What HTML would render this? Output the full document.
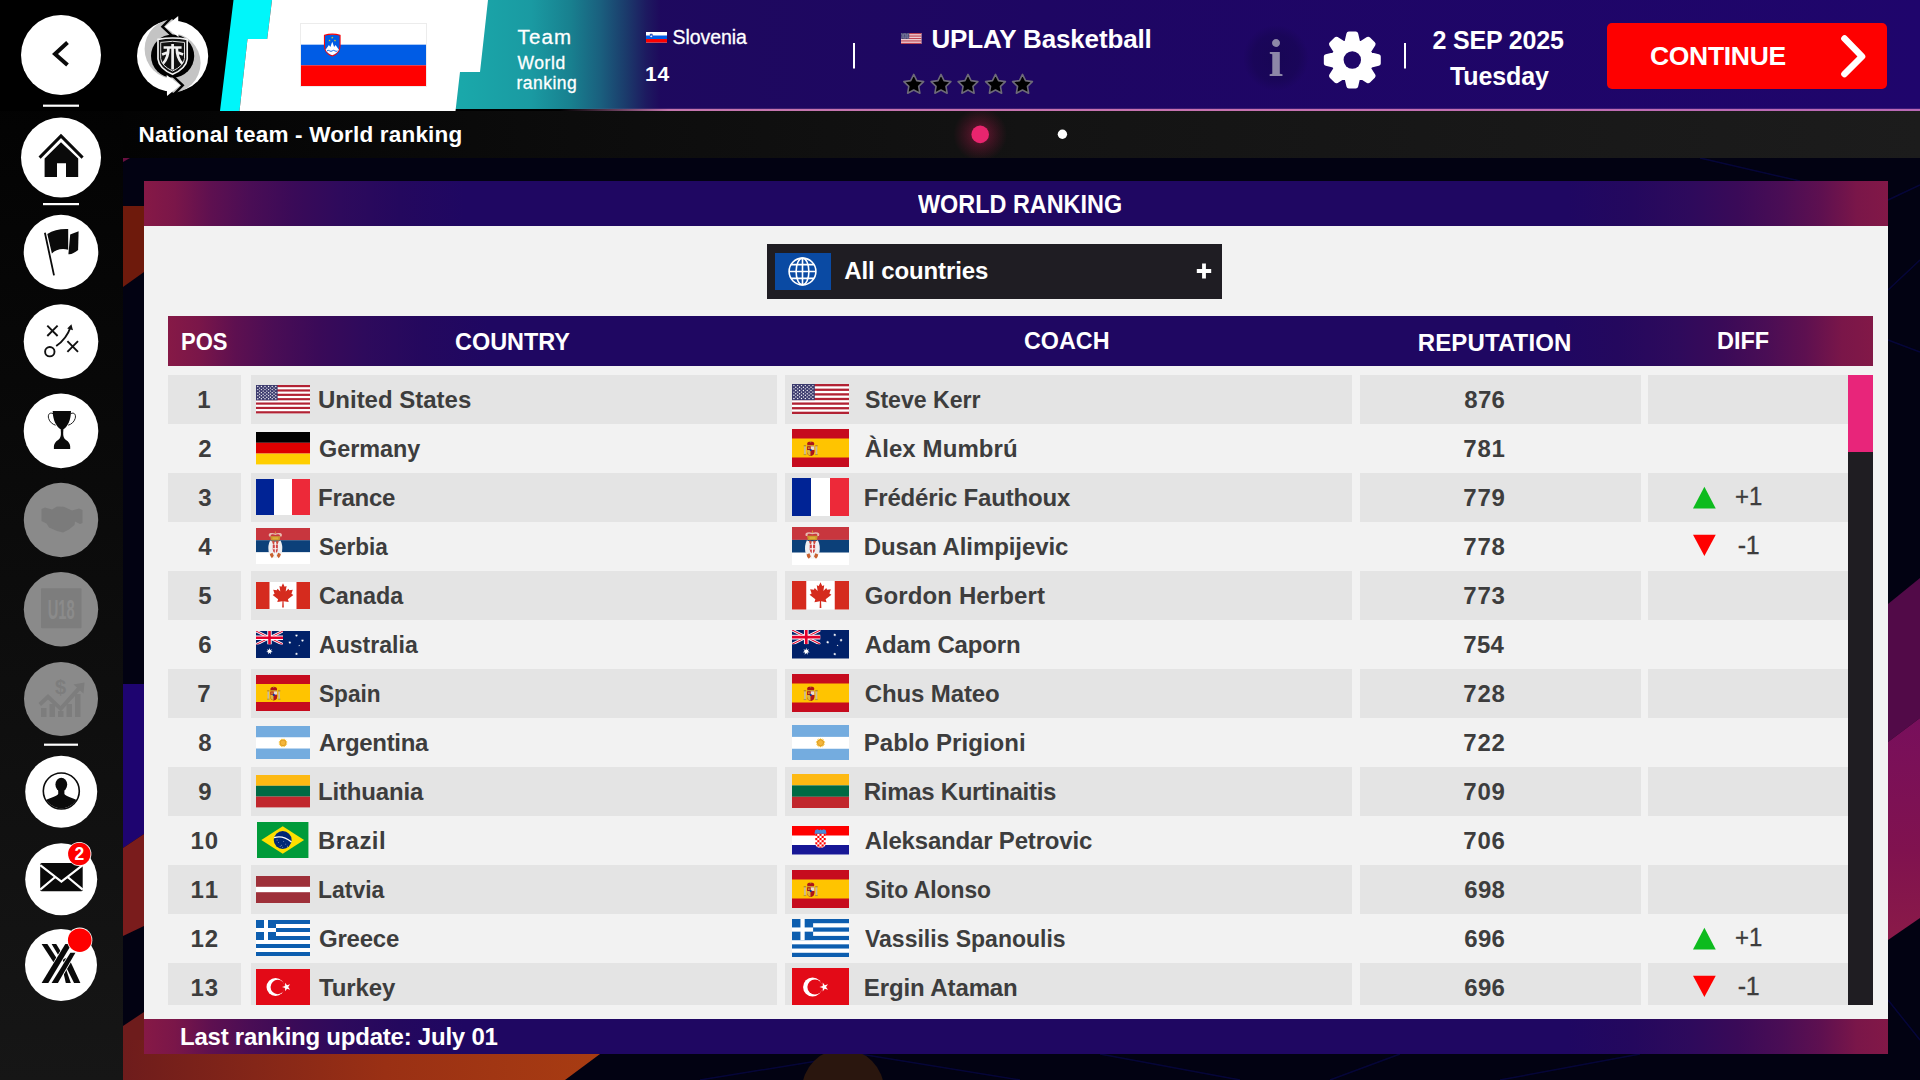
<!DOCTYPE html>
<html lang="en"><head><meta charset="utf-8"><title>National team - World ranking</title>
<style>
html,body{margin:0;padding:0;}
body{width:1920px;height:1080px;overflow:hidden;background:#020212;font-family:"Liberation Sans",sans-serif;position:relative;}
.abs{position:absolute;}
.t{position:absolute;white-space:nowrap;line-height:1;font-weight:700;color:#fff;}
.fl{position:absolute;display:block;}
.cell{position:absolute;height:49px;background:#e4e4e4;}
.circ{position:absolute;border-radius:50%;background:#fff;}
.circ.dis{background:#8e8e8e;}
.sdiv{position:absolute;left:43px;width:36px;height:2px;background:#fff;}
#bg{position:absolute;left:0;top:0;}
#side{position:absolute;left:0;top:0;width:123px;height:1080px;background:linear-gradient(180deg,#000 0%,#030303 12%,#161616 100%);}
#topbar{position:absolute;left:0;top:0;width:1920px;height:111px;}
#subbar{position:absolute;left:123px;top:111px;width:1797px;height:47px;background:linear-gradient(90deg,#030303 0%,#0c0c0c 25%,#131313 50%,#1c1c1c 100%);}
#panel{position:absolute;left:144px;top:181px;width:1744px;height:873px;background:#f2f2f2;}
.grad{background:linear-gradient(90deg,#861946 0px, #7a1649 31px, #5e1050 67px, #4a0d55 106px, #3a0a58 150px, #2e0a5c 196px, #24085e 256px, #1f0762 320px, #1f0762 calc(100% - 320px), #24085e calc(100% - 256px), #2e0a5c calc(100% - 196px), #3a0a58 calc(100% - 150px), #4a0d55 calc(100% - 106px), #5e1050 calc(100% - 67px), #7a1649 calc(100% - 31px), #821847 calc(100% - 0px));}
#phead{position:absolute;left:144px;top:181px;width:1744px;height:45px;}
#pfoot{position:absolute;left:144px;top:1019px;width:1744px;height:35px;}
#thead{position:absolute;left:168px;top:316px;width:1705px;height:49.5px;}
#dd{position:absolute;left:767px;top:244px;width:455px;height:54.5px;background:#1f1d23;}
#ddtile{position:absolute;left:775px;top:253px;width:56px;height:36.7px;background:#0a4aa3;}
#scroll{position:absolute;left:0;top:0;width:1920px;height:1005px;overflow:hidden;clip-path:inset(375px 0 0 0);}
#track{position:absolute;left:1848px;top:375px;width:25px;height:630px;background:#1f1d22;}
#thumb{position:absolute;left:1848px;top:375px;width:25px;height:77px;background:#e8257a;}
#bigflag{outline:1px solid #ececec;outline-offset:-0.5px;}
#cont{position:absolute;left:1607px;top:23px;width:280px;height:66px;border-radius:5px;background:#fe0000;}
</style></head><body>

<!-- background art -->
<svg id="bg" width="1920" height="1080" viewBox="0 0 1920 1080">
  <defs>
    <linearGradient id="gb" x1="0" x2="1" y1="0" y2="0"><stop offset="0" stop-color="#6e1c1c"/><stop offset="0.55" stop-color="#9a3014"/><stop offset="1" stop-color="#a83c12"/></linearGradient>
    <linearGradient id="gm" x1="0" x2="1" y1="0" y2="1"><stop offset="0" stop-color="#5a0a50"/><stop offset="0.5" stop-color="#7a1058"/><stop offset="1" stop-color="#8a1848"/></linearGradient>
    <linearGradient id="gm2" x1="0" x2="0" y1="0" y2="1"><stop offset="0" stop-color="#780f5c"/><stop offset="0.6" stop-color="#80124f"/><stop offset="1" stop-color="#8a1a48"/></linearGradient>
    <radialGradient id="go"><stop offset="0" stop-color="#7a3a10" stop-opacity="0.7"/><stop offset="1" stop-color="#7a3a10" stop-opacity="0"/></radialGradient>
  </defs>
  <rect x="123" y="158" width="1797" height="922" fill="#020212"/>
  <!-- faint blue lines -->
  <g stroke="#0a0a5a" stroke-width="1.5" opacity="0.55" fill="none">
    <path d="M1700,158 L1800,181 M1888,200 L1920,185 M1888,340 L1920,352 M1888,290 L1920,260"/>
    <path d="M700,1080 L860,1054 L1020,1080 M1100,1054 L1240,1080 M1400,1054 L1330,1080 M1500,1080 L1640,1054 M1888,1000 L1920,1040"/>
  </g>
  <!-- left strip shapes -->
  <polygon points="123,206 144,206 144,272 123,287" fill="#6e1a0c"/>
  <polygon points="123,684 144,684 144,834 123,848" fill="#1e0470"/>
  <polygon points="123,848 144,834 144,926 123,936" fill="#7a1c1c"/>
  <polygon points="123,1026 144,1012 144,1080 123,1080" fill="#6e1c1c"/>
  <polygon points="123,158 130,158 123,162" fill="#6a1040"/>
  <!-- bottom brown -->
  <polygon points="123,1040 600,1040 600,1054 565,1080 123,1080" fill="url(#gb)"/>
  <circle cx="843" cy="1090" r="41" fill="#2a160e"/>
  <!-- right magenta shapes -->
  <polygon points="1888,604 1920,578 1920,718 1888,742" fill="#520a48"/>
  <polygon points="1888,742 1920,718 1920,918 1888,940" fill="url(#gm2)"/>
</svg>

<div id="side"></div>

<!-- top bar -->
<svg id="topbar" width="1920" height="111" viewBox="0 0 1920 111">
  <defs>
    <linearGradient id="tb" x1="0" x2="1"><stop offset="0" stop-color="#1e0a5c"/><stop offset="0.4" stop-color="#1e0663"/><stop offset="1" stop-color="#1f056c"/></linearGradient>
    <linearGradient id="teal" gradientUnits="userSpaceOnUse" x1="462" x2="660" y1="0" y2="0"><stop offset="0" stop-color="#1aa8aa"/><stop offset="0.35" stop-color="#1a9aa2"/><stop offset="0.55" stop-color="#18808f"/><stop offset="0.7" stop-color="#1a5f7e"/><stop offset="0.83" stop-color="#1b3a6b"/><stop offset="0.93" stop-color="#1d1a60"/><stop offset="1" stop-color="#1e0a5c"/></linearGradient>
    <linearGradient id="pl" x1="0" x2="1"><stop offset="0" stop-color="#c476ae" stop-opacity="0"/><stop offset="0.08" stop-color="#c476ae"/><stop offset="0.5" stop-color="#c672b0"/><stop offset="1" stop-color="#b868b6"/></linearGradient>
  </defs>
  <rect x="0" y="0" width="1920" height="111" fill="#000"/>
  <rect x="455" y="0" width="1465" height="109" fill="url(#tb)"/>
  <polygon points="455,0 660,0 660,109 455,109" fill="url(#teal)"/>
  <!-- pink line -->
  <rect x="560" y="108.8" width="1360" height="2.3" fill="url(#pl)"/>
  <!-- black left -->
  <polygon points="0,0 233.5,0 220,111 0,111" fill="#000"/>
  <!-- cyan -->
  <polygon points="233.5,0 272,0 267.2,39 247.5,39 239.5,111 220,111" fill="#00f6fa"/>
  <!-- white -->
  <polygon points="272,0 488,0 480,72 460,72 455.5,111 239.5,111 247.5,39 267.2,39" fill="#fff"/>
  <!-- stars -->
  <polygon points="913.75,74.40 916.81,80.59 923.64,81.59 918.70,86.41 919.86,93.21 913.75,90.00 907.64,93.21 908.80,86.41 903.86,81.59 910.69,80.59" fill="#000" stroke="#6d6a78" stroke-width="1.6" stroke-linejoin="round"/><polygon points="941.00,74.40 944.06,80.59 950.89,81.59 945.95,86.41 947.11,93.21 941.00,90.00 934.89,93.21 936.05,86.41 931.11,81.59 937.94,80.59" fill="#000" stroke="#6d6a78" stroke-width="1.6" stroke-linejoin="round"/><polygon points="968.00,74.40 971.06,80.59 977.89,81.59 972.95,86.41 974.11,93.21 968.00,90.00 961.89,93.21 963.05,86.41 958.11,81.59 964.94,80.59" fill="#000" stroke="#6d6a78" stroke-width="1.6" stroke-linejoin="round"/><polygon points="995.50,74.40 998.56,80.59 1005.39,81.59 1000.45,86.41 1001.61,93.21 995.50,90.00 989.39,93.21 990.55,86.41 985.61,81.59 992.44,80.59" fill="#000" stroke="#6d6a78" stroke-width="1.6" stroke-linejoin="round"/><polygon points="1022.50,74.40 1025.56,80.59 1032.39,81.59 1027.45,86.41 1028.61,93.21 1022.50,90.00 1016.39,93.21 1017.55,86.41 1012.61,81.59 1019.44,80.59" fill="#000" stroke="#6d6a78" stroke-width="1.6" stroke-linejoin="round"/>
  <!-- dividers -->
  <rect x="853" y="43" width="2" height="25.5" fill="#fff"/>
  <rect x="1404" y="43" width="2" height="25.5" fill="#fff"/>
</svg>
<svg class="fl" style="left:301px;top:24px" width="125" height="62" viewBox="0 0 120 60" preserveAspectRatio="none" id="bigflag"><rect width="120" height="60" fill="#fff"/><rect y="20" width="120" height="20" fill="#005ce5"/><rect y="40" width="120" height="20" fill="#ff0000"/><path d="M22.5,11 q7.5,-2.4 15,0 v10 q0,7 -7.5,10 q-7.5,-3 -7.5,-10z" fill="#005ce5" stroke="#ff0000" stroke-width="1"/><path d="M23.6,25 l3.2,-4.6 l1.4,1.8 l1.8,-5 l1.8,5 l1.4,-1.8 l3.2,4.6 q-1.6,3.6 -6.4,5.2 q-4.8,-1.6 -6.4,-5.2z" fill="#fff"/><path d="M25,26 q1.2,-1 2.5,0 t2.5,0 t2.5,0 t2.5,0" stroke="#005ce5" stroke-width="0.9" fill="none"/><polygon points="30.00,12.00 30.27,12.83 31.14,12.83 30.44,13.34 30.71,14.17 30.00,13.66 29.29,14.17 29.56,13.34 28.86,12.83 29.73,12.83" fill="#ffdd00"/><polygon points="27.40,14.80 27.67,15.63 28.54,15.63 27.84,16.14 28.11,16.97 27.40,16.46 26.69,16.97 26.96,16.14 26.26,15.63 27.13,15.63" fill="#ffdd00"/><polygon points="32.60,14.80 32.87,15.63 33.74,15.63 33.04,16.14 33.31,16.97 32.60,16.46 31.89,16.97 32.16,16.14 31.46,15.63 32.33,15.63" fill="#ffdd00"/></svg>
<svg class="fl" style="left:646px;top:32px" width="21" height="10.5" viewBox="0 0 120 60" preserveAspectRatio="none" ><rect width="120" height="60" fill="#fff"/><rect y="20" width="120" height="20" fill="#005ce5"/><rect y="40" width="120" height="20" fill="#ff0000"/><path d="M22.5,11 q7.5,-2.4 15,0 v10 q0,7 -7.5,10 q-7.5,-3 -7.5,-10z" fill="#005ce5" stroke="#ff0000" stroke-width="1"/><path d="M23.6,25 l3.2,-4.6 l1.4,1.8 l1.8,-5 l1.8,5 l1.4,-1.8 l3.2,4.6 q-1.6,3.6 -6.4,5.2 q-4.8,-1.6 -6.4,-5.2z" fill="#fff"/><path d="M25,26 q1.2,-1 2.5,0 t2.5,0 t2.5,0 t2.5,0" stroke="#005ce5" stroke-width="0.9" fill="none"/><polygon points="30.00,12.00 30.27,12.83 31.14,12.83 30.44,13.34 30.71,14.17 30.00,13.66 29.29,14.17 29.56,13.34 28.86,12.83 29.73,12.83" fill="#ffdd00"/><polygon points="27.40,14.80 27.67,15.63 28.54,15.63 27.84,16.14 28.11,16.97 27.40,16.46 26.69,16.97 26.96,16.14 26.26,15.63 27.13,15.63" fill="#ffdd00"/><polygon points="32.60,14.80 32.87,15.63 33.74,15.63 33.04,16.14 33.31,16.97 32.60,16.46 31.89,16.97 32.16,16.14 31.46,15.63 32.33,15.63" fill="#ffdd00"/></svg>
<svg class="fl" style="left:901px;top:33px" width="20.5" height="11" viewBox="0 0 57 30" preserveAspectRatio="none" ><rect width="57" height="30" fill="#fff"/><rect y="0.000" width="57" height="2.308" fill="#b22234"/><rect y="4.615" width="57" height="2.308" fill="#b22234"/><rect y="9.231" width="57" height="2.308" fill="#b22234"/><rect y="13.846" width="57" height="2.308" fill="#b22234"/><rect y="18.462" width="57" height="2.308" fill="#b22234"/><rect y="23.077" width="57" height="2.308" fill="#b22234"/><rect y="27.692" width="57" height="2.308" fill="#b22234"/><rect width="22.80" height="16.15" fill="#3c3b6e"/><circle cx="1.90" cy="1.62" r="0.7" fill="#fff"/><circle cx="5.70" cy="1.62" r="0.7" fill="#fff"/><circle cx="9.50" cy="1.62" r="0.7" fill="#fff"/><circle cx="13.30" cy="1.62" r="0.7" fill="#fff"/><circle cx="17.10" cy="1.62" r="0.7" fill="#fff"/><circle cx="20.90" cy="1.62" r="0.7" fill="#fff"/><circle cx="3.80" cy="3.23" r="0.7" fill="#fff"/><circle cx="7.60" cy="3.23" r="0.7" fill="#fff"/><circle cx="11.40" cy="3.23" r="0.7" fill="#fff"/><circle cx="15.20" cy="3.23" r="0.7" fill="#fff"/><circle cx="19.00" cy="3.23" r="0.7" fill="#fff"/><circle cx="1.90" cy="4.85" r="0.7" fill="#fff"/><circle cx="5.70" cy="4.85" r="0.7" fill="#fff"/><circle cx="9.50" cy="4.85" r="0.7" fill="#fff"/><circle cx="13.30" cy="4.85" r="0.7" fill="#fff"/><circle cx="17.10" cy="4.85" r="0.7" fill="#fff"/><circle cx="20.90" cy="4.85" r="0.7" fill="#fff"/><circle cx="3.80" cy="6.46" r="0.7" fill="#fff"/><circle cx="7.60" cy="6.46" r="0.7" fill="#fff"/><circle cx="11.40" cy="6.46" r="0.7" fill="#fff"/><circle cx="15.20" cy="6.46" r="0.7" fill="#fff"/><circle cx="19.00" cy="6.46" r="0.7" fill="#fff"/><circle cx="1.90" cy="8.08" r="0.7" fill="#fff"/><circle cx="5.70" cy="8.08" r="0.7" fill="#fff"/><circle cx="9.50" cy="8.08" r="0.7" fill="#fff"/><circle cx="13.30" cy="8.08" r="0.7" fill="#fff"/><circle cx="17.10" cy="8.08" r="0.7" fill="#fff"/><circle cx="20.90" cy="8.08" r="0.7" fill="#fff"/><circle cx="3.80" cy="9.69" r="0.7" fill="#fff"/><circle cx="7.60" cy="9.69" r="0.7" fill="#fff"/><circle cx="11.40" cy="9.69" r="0.7" fill="#fff"/><circle cx="15.20" cy="9.69" r="0.7" fill="#fff"/><circle cx="19.00" cy="9.69" r="0.7" fill="#fff"/><circle cx="1.90" cy="11.31" r="0.7" fill="#fff"/><circle cx="5.70" cy="11.31" r="0.7" fill="#fff"/><circle cx="9.50" cy="11.31" r="0.7" fill="#fff"/><circle cx="13.30" cy="11.31" r="0.7" fill="#fff"/><circle cx="17.10" cy="11.31" r="0.7" fill="#fff"/><circle cx="20.90" cy="11.31" r="0.7" fill="#fff"/><circle cx="3.80" cy="12.92" r="0.7" fill="#fff"/><circle cx="7.60" cy="12.92" r="0.7" fill="#fff"/><circle cx="11.40" cy="12.92" r="0.7" fill="#fff"/><circle cx="15.20" cy="12.92" r="0.7" fill="#fff"/><circle cx="19.00" cy="12.92" r="0.7" fill="#fff"/><circle cx="1.90" cy="14.54" r="0.7" fill="#fff"/><circle cx="5.70" cy="14.54" r="0.7" fill="#fff"/><circle cx="9.50" cy="14.54" r="0.7" fill="#fff"/><circle cx="13.30" cy="14.54" r="0.7" fill="#fff"/><circle cx="17.10" cy="14.54" r="0.7" fill="#fff"/><circle cx="20.90" cy="14.54" r="0.7" fill="#fff"/></svg>
<svg class="fl" style="left:0;top:0" width="1920" height="111" viewBox="0 0 1920 111"><defs><radialGradient id="ish"><stop offset="0" stop-color="#160650" stop-opacity="0.75"/><stop offset="0.7" stop-color="#160650" stop-opacity="0.55"/><stop offset="1" stop-color="#160650" stop-opacity="0"/></radialGradient></defs><circle cx="1276" cy="58" r="33" fill="url(#ish)"/><path d="M1347.02,42.17 L1348.88,34.02 L1355.72,34.02 L1357.58,42.17 L1361.18,43.65 L1368.25,39.21 L1373.09,44.05 L1368.65,51.12 L1370.13,54.72 L1378.28,56.58 L1378.28,63.42 L1370.13,65.28 L1368.65,68.88 L1373.09,75.95 L1368.25,80.79 L1361.18,76.35 L1357.58,77.83 L1355.72,85.98 L1348.88,85.98 L1347.02,77.83 L1343.42,76.35 L1336.35,80.79 L1331.51,75.95 L1335.95,68.88 L1334.47,65.28 L1326.32,63.42 L1326.32,56.58 L1334.47,54.72 L1335.95,51.12 L1331.51,44.05 L1336.35,39.21 L1343.42,43.65Z" fill="#fff" stroke="#fff" stroke-width="5" stroke-linejoin="round"/><circle cx="1352.3" cy="60" r="8.7" fill="#1f0668"/></svg>
<span class="t" id="info" style="font-family:'Liberation Serif',serif;font-size:53px;color:#8d87a8;left:1268.6px;top:32.3px;">i</span>
<div id="cont"></div>
<svg class="fl" style="left:1836px;top:30px" width="36" height="52" viewBox="0 0 36 52"><path d="M8.5,8.5 L26,26.5 L8.5,44" fill="none" stroke="#fff" stroke-width="6.6" stroke-linecap="round" stroke-linejoin="round"/></svg>

<div id="subbar"></div>
<svg class="fl" style="left:930px;top:111px" width="180" height="47" viewBox="0 0 180 47">
  <defs><radialGradient id="pg"><stop offset="0" stop-color="#e8256e" stop-opacity="0.55"/><stop offset="0.35" stop-color="#c01a50" stop-opacity="0.32"/><stop offset="1" stop-color="#a01040" stop-opacity="0"/></radialGradient></defs>
  <circle cx="50.2" cy="23.4" r="27" fill="url(#pg)"/>
  <circle cx="50.2" cy="23.4" r="8.8" fill="#e8256e"/>
  <circle cx="132.4" cy="23.2" r="4.7" fill="#fff"/>
</svg>

<!-- panel -->
<div id="panel"></div>
<div id="phead" class="grad"></div>
<div id="pfoot" class="grad"></div>
<div id="thead" class="grad"></div>
<div id="dd"></div><div id="ddtile"></div>
<svg class="fl" style="left:786px;top:254.5px" width="33" height="33" viewBox="0 0 33 33" fill="none" stroke="#fff" stroke-width="1.6">
  <circle cx="16.5" cy="16.5" r="13.4"/><ellipse cx="16.5" cy="16.5" rx="6.4" ry="13.4"/><path d="M16.5,3.1 V29.9 M3.1,16.5 H29.9 M5.2,9.6 H27.8 M5.2,23.4 H27.8"/>
</svg>
<svg class="fl" style="left:1196px;top:263px" width="16" height="16" viewBox="0 0 16 16"><path d="M8,0.6 V15.4 M0.8,8 H15.2" stroke="#fff" stroke-width="3.8"/></svg>

<div id="track"></div><div id="thumb"></div>
<div id="scroll">
<div class="cell" style="left:168px;top:375px;width:73px"></div><div class="cell" style="left:250.5px;top:375px;width:526.5px"></div><div class="cell" style="left:785px;top:375px;width:567px"></div><div class="cell" style="left:1359.5px;top:375px;width:281.0px"></div><div class="cell" style="left:1647.5px;top:375px;width:200.5px"></div><svg class="fl" style="left:256.0px;top:385.19px" width="54" height="28.42" viewBox="0 0 57 30" preserveAspectRatio="none" ><rect width="57" height="30" fill="#fff"/><rect y="0.000" width="57" height="2.308" fill="#b22234"/><rect y="4.615" width="57" height="2.308" fill="#b22234"/><rect y="9.231" width="57" height="2.308" fill="#b22234"/><rect y="13.846" width="57" height="2.308" fill="#b22234"/><rect y="18.462" width="57" height="2.308" fill="#b22234"/><rect y="23.077" width="57" height="2.308" fill="#b22234"/><rect y="27.692" width="57" height="2.308" fill="#b22234"/><rect width="22.80" height="16.15" fill="#3c3b6e"/><circle cx="1.90" cy="1.62" r="0.7" fill="#fff"/><circle cx="5.70" cy="1.62" r="0.7" fill="#fff"/><circle cx="9.50" cy="1.62" r="0.7" fill="#fff"/><circle cx="13.30" cy="1.62" r="0.7" fill="#fff"/><circle cx="17.10" cy="1.62" r="0.7" fill="#fff"/><circle cx="20.90" cy="1.62" r="0.7" fill="#fff"/><circle cx="3.80" cy="3.23" r="0.7" fill="#fff"/><circle cx="7.60" cy="3.23" r="0.7" fill="#fff"/><circle cx="11.40" cy="3.23" r="0.7" fill="#fff"/><circle cx="15.20" cy="3.23" r="0.7" fill="#fff"/><circle cx="19.00" cy="3.23" r="0.7" fill="#fff"/><circle cx="1.90" cy="4.85" r="0.7" fill="#fff"/><circle cx="5.70" cy="4.85" r="0.7" fill="#fff"/><circle cx="9.50" cy="4.85" r="0.7" fill="#fff"/><circle cx="13.30" cy="4.85" r="0.7" fill="#fff"/><circle cx="17.10" cy="4.85" r="0.7" fill="#fff"/><circle cx="20.90" cy="4.85" r="0.7" fill="#fff"/><circle cx="3.80" cy="6.46" r="0.7" fill="#fff"/><circle cx="7.60" cy="6.46" r="0.7" fill="#fff"/><circle cx="11.40" cy="6.46" r="0.7" fill="#fff"/><circle cx="15.20" cy="6.46" r="0.7" fill="#fff"/><circle cx="19.00" cy="6.46" r="0.7" fill="#fff"/><circle cx="1.90" cy="8.08" r="0.7" fill="#fff"/><circle cx="5.70" cy="8.08" r="0.7" fill="#fff"/><circle cx="9.50" cy="8.08" r="0.7" fill="#fff"/><circle cx="13.30" cy="8.08" r="0.7" fill="#fff"/><circle cx="17.10" cy="8.08" r="0.7" fill="#fff"/><circle cx="20.90" cy="8.08" r="0.7" fill="#fff"/><circle cx="3.80" cy="9.69" r="0.7" fill="#fff"/><circle cx="7.60" cy="9.69" r="0.7" fill="#fff"/><circle cx="11.40" cy="9.69" r="0.7" fill="#fff"/><circle cx="15.20" cy="9.69" r="0.7" fill="#fff"/><circle cx="19.00" cy="9.69" r="0.7" fill="#fff"/><circle cx="1.90" cy="11.31" r="0.7" fill="#fff"/><circle cx="5.70" cy="11.31" r="0.7" fill="#fff"/><circle cx="9.50" cy="11.31" r="0.7" fill="#fff"/><circle cx="13.30" cy="11.31" r="0.7" fill="#fff"/><circle cx="17.10" cy="11.31" r="0.7" fill="#fff"/><circle cx="20.90" cy="11.31" r="0.7" fill="#fff"/><circle cx="3.80" cy="12.92" r="0.7" fill="#fff"/><circle cx="7.60" cy="12.92" r="0.7" fill="#fff"/><circle cx="11.40" cy="12.92" r="0.7" fill="#fff"/><circle cx="15.20" cy="12.92" r="0.7" fill="#fff"/><circle cx="19.00" cy="12.92" r="0.7" fill="#fff"/><circle cx="1.90" cy="14.54" r="0.7" fill="#fff"/><circle cx="5.70" cy="14.54" r="0.7" fill="#fff"/><circle cx="9.50" cy="14.54" r="0.7" fill="#fff"/><circle cx="13.30" cy="14.54" r="0.7" fill="#fff"/><circle cx="17.10" cy="14.54" r="0.7" fill="#fff"/><circle cx="20.90" cy="14.54" r="0.7" fill="#fff"/></svg><svg class="fl" style="left:792.0px;top:384.4px" width="57" height="30.0" viewBox="0 0 57 30" preserveAspectRatio="none" ><rect width="57" height="30" fill="#fff"/><rect y="0.000" width="57" height="2.308" fill="#b22234"/><rect y="4.615" width="57" height="2.308" fill="#b22234"/><rect y="9.231" width="57" height="2.308" fill="#b22234"/><rect y="13.846" width="57" height="2.308" fill="#b22234"/><rect y="18.462" width="57" height="2.308" fill="#b22234"/><rect y="23.077" width="57" height="2.308" fill="#b22234"/><rect y="27.692" width="57" height="2.308" fill="#b22234"/><rect width="22.80" height="16.15" fill="#3c3b6e"/><circle cx="1.90" cy="1.62" r="0.7" fill="#fff"/><circle cx="5.70" cy="1.62" r="0.7" fill="#fff"/><circle cx="9.50" cy="1.62" r="0.7" fill="#fff"/><circle cx="13.30" cy="1.62" r="0.7" fill="#fff"/><circle cx="17.10" cy="1.62" r="0.7" fill="#fff"/><circle cx="20.90" cy="1.62" r="0.7" fill="#fff"/><circle cx="3.80" cy="3.23" r="0.7" fill="#fff"/><circle cx="7.60" cy="3.23" r="0.7" fill="#fff"/><circle cx="11.40" cy="3.23" r="0.7" fill="#fff"/><circle cx="15.20" cy="3.23" r="0.7" fill="#fff"/><circle cx="19.00" cy="3.23" r="0.7" fill="#fff"/><circle cx="1.90" cy="4.85" r="0.7" fill="#fff"/><circle cx="5.70" cy="4.85" r="0.7" fill="#fff"/><circle cx="9.50" cy="4.85" r="0.7" fill="#fff"/><circle cx="13.30" cy="4.85" r="0.7" fill="#fff"/><circle cx="17.10" cy="4.85" r="0.7" fill="#fff"/><circle cx="20.90" cy="4.85" r="0.7" fill="#fff"/><circle cx="3.80" cy="6.46" r="0.7" fill="#fff"/><circle cx="7.60" cy="6.46" r="0.7" fill="#fff"/><circle cx="11.40" cy="6.46" r="0.7" fill="#fff"/><circle cx="15.20" cy="6.46" r="0.7" fill="#fff"/><circle cx="19.00" cy="6.46" r="0.7" fill="#fff"/><circle cx="1.90" cy="8.08" r="0.7" fill="#fff"/><circle cx="5.70" cy="8.08" r="0.7" fill="#fff"/><circle cx="9.50" cy="8.08" r="0.7" fill="#fff"/><circle cx="13.30" cy="8.08" r="0.7" fill="#fff"/><circle cx="17.10" cy="8.08" r="0.7" fill="#fff"/><circle cx="20.90" cy="8.08" r="0.7" fill="#fff"/><circle cx="3.80" cy="9.69" r="0.7" fill="#fff"/><circle cx="7.60" cy="9.69" r="0.7" fill="#fff"/><circle cx="11.40" cy="9.69" r="0.7" fill="#fff"/><circle cx="15.20" cy="9.69" r="0.7" fill="#fff"/><circle cx="19.00" cy="9.69" r="0.7" fill="#fff"/><circle cx="1.90" cy="11.31" r="0.7" fill="#fff"/><circle cx="5.70" cy="11.31" r="0.7" fill="#fff"/><circle cx="9.50" cy="11.31" r="0.7" fill="#fff"/><circle cx="13.30" cy="11.31" r="0.7" fill="#fff"/><circle cx="17.10" cy="11.31" r="0.7" fill="#fff"/><circle cx="20.90" cy="11.31" r="0.7" fill="#fff"/><circle cx="3.80" cy="12.92" r="0.7" fill="#fff"/><circle cx="7.60" cy="12.92" r="0.7" fill="#fff"/><circle cx="11.40" cy="12.92" r="0.7" fill="#fff"/><circle cx="15.20" cy="12.92" r="0.7" fill="#fff"/><circle cx="19.00" cy="12.92" r="0.7" fill="#fff"/><circle cx="1.90" cy="14.54" r="0.7" fill="#fff"/><circle cx="5.70" cy="14.54" r="0.7" fill="#fff"/><circle cx="9.50" cy="14.54" r="0.7" fill="#fff"/><circle cx="13.30" cy="14.54" r="0.7" fill="#fff"/><circle cx="17.10" cy="14.54" r="0.7" fill="#fff"/><circle cx="20.90" cy="14.54" r="0.7" fill="#fff"/></svg>
<svg class="fl" style="left:256.0px;top:432.2px" width="54" height="32.4" viewBox="0 0 5 3" preserveAspectRatio="none" ><rect width="5" height="1" fill="#000"/><rect y="1" width="5" height="1" fill="#dd0000"/><rect y="2" width="5" height="1" fill="#ffce00"/></svg><svg class="fl" style="left:792.0px;top:429.4px" width="57" height="38.0" viewBox="0 0 57 38" preserveAspectRatio="none" ><rect width="57" height="38" fill="#c60b1e"/><rect y="9.5" width="57" height="19" fill="#ffc400"/><rect x="12.1" y="17.2" width="1.7" height="8.3" fill="#c8b9a0"/><rect x="23.6" y="17.2" width="1.7" height="8.3" fill="#c8b9a0"/><rect x="11.6" y="25.0" width="2.7" height="1.1" fill="#b89a3a"/><rect x="23.1" y="25.0" width="2.7" height="1.1" fill="#b89a3a"/><rect x="11.7" y="16.1" width="2.5" height="1.2" fill="#b8862a"/><rect x="23.2" y="16.1" width="2.5" height="1.2" fill="#b8862a"/><path d="M15.399999999999999,16.5 q-0.8,-2.6 0.6,-3.4 q2.7,-1.4 5.4,0 q1.4,0.8 0.6,3.4z" fill="#ad1519"/><path d="M15.399999999999999,16.1 h6.6 v1.1 h-6.6z" fill="#c8a332"/><circle cx="18.7" cy="12.7" r="0.7" fill="#c8a332"/><path d="M15.1,17.3 h7.2 v5.6 q0,3.4 -3.6,4 q-3.6,-0.6 -3.6,-4z" fill="#ad1519"/><path d="M18.7,17.3 h3.6 v3.6 h-3.6z" fill="#e8e0d0"/><path d="M15.1,20.9 h3.6 v5.8 q-3.3,-0.8 -3.6,-3.8z" fill="#e0b83a"/><path d="M18.7,20.9 h3.6 v2 q-0.3,3 -3.6,3.8z" fill="#ad1519"/><circle cx="18.7" cy="21.0" r="1.1" fill="#0039a6"/><circle cx="16.9" cy="19.099999999999998" r="0.9" fill="#d8b040"/></svg>
<div class="cell" style="left:168px;top:473px;width:73px"></div><div class="cell" style="left:250.5px;top:473px;width:526.5px"></div><div class="cell" style="left:785px;top:473px;width:567px"></div><div class="cell" style="left:1359.5px;top:473px;width:281.0px"></div><div class="cell" style="left:1647.5px;top:473px;width:200.5px"></div><svg class="fl" style="left:256.0px;top:479.4px" width="54" height="36.0" viewBox="0 0 3 2" preserveAspectRatio="none" ><rect width="1" height="2" fill="#002395"/><rect x="1" width="1" height="2" fill="#fff"/><rect x="2" width="1" height="2" fill="#ed2939"/></svg><svg class="fl" style="left:792.0px;top:478.4px" width="57" height="38.0" viewBox="0 0 3 2" preserveAspectRatio="none" ><rect width="1" height="2" fill="#002395"/><rect x="1" width="1" height="2" fill="#fff"/><rect x="2" width="1" height="2" fill="#ed2939"/></svg><svg class="fl" style="left:1692px;top:484.4px" width="26" height="26"><polygon points="12.4,2.85 23.75,24.6 1,24.6" fill="#0dbb1e"/></svg>
<svg class="fl" style="left:256.0px;top:528.4px" width="54" height="36.0" viewBox="0 0 57 38" preserveAspectRatio="none" ><rect width="57" height="12.9" fill="#c8363e"/><rect y="12.9" width="57" height="12.8" fill="#0c4079"/><rect y="25.7" width="57" height="12.3" fill="#fff"/><path d="M13.799999999999999,9 q-1.2,-2.800 1.400,-3.600 q2.400,-0.500 5.200,0.300 q2.800,-0.800 5.200,-0.300 q2.600,0.800 1.400,3.600z" fill="#e7b9b0"/><path d="M15.599999999999998,9 q-0.500,-1.600 0.800,-2.200 q1.800,-0.400 4,0.500 q2.200,-0.900 4,-0.500 q1.300,0.600 0.800,2.200z" fill="#c8363e"/><path d="M20.0,3.600 h0.800 v2.400 h-0.800z" fill="#d9a53a"/><path d="M14.999999999999998,8.800 h10.800 l-0.900,4.300 h-9z" fill="#c9962e"/><path d="M17.4,9.800 h6 v2.200 h-6z" fill="#dcae38"/><path d="M14.899999999999999,13.300 q-2.600,5 -1.600,11.500 q0.800,4 3.200,5.600 q2,1.500 3.900,1 q1.900,0.500 3.900,-1 q2.400,-1.600 3.200,-5.600 q1,-6.500 -1.600,-11.500 q-1.600,1 -2.700,0.400 l-2.800,1.400 l-2.800,-1.400 q-1.100,0.600 -2.700,-0.400z" fill="#f0eff1"/><path d="M16.799999999999997,14 l2.300,-0.500 l1.300,2.400 l1.300,-2.400 l2.300,0.500 l-1.200,3.300 h-4.800z" fill="#cf4a3c"/><path d="M19.799999999999997,14.200 h1.200 l0.800,3.400 h-2.800z" fill="#f4f2f2"/><path d="M17.7,17.800 h5.400 v4.800 q0,2.800 -2.700,3.900 q-2.700,-1.100 -2.700,-3.900z" fill="#cf4444"/><path d="M19.849999999999998,16.800 h1.100 v14.400 h-1.100z M17.9,21.300 h5 v1.100 h-5z" fill="#fbfbfb"/><path d="M14.599999999999998,27.400 l2.800,-1.200 l1.400,3.200 l-2,2.400 q-2,-1.600 -2.200,-4.400z M26.2,27.400 l-2.800,-1.200 l-1.400,3.200 l2,2.400 q2,-1.600 2.200,-4.400z" fill="#c9612e"/></svg><svg class="fl" style="left:792.0px;top:527.4px" width="57" height="38.0" viewBox="0 0 57 38" preserveAspectRatio="none" ><rect width="57" height="12.9" fill="#c8363e"/><rect y="12.9" width="57" height="12.8" fill="#0c4079"/><rect y="25.7" width="57" height="12.3" fill="#fff"/><path d="M13.799999999999999,9 q-1.2,-2.800 1.400,-3.600 q2.400,-0.500 5.200,0.300 q2.800,-0.800 5.200,-0.300 q2.600,0.800 1.400,3.600z" fill="#e7b9b0"/><path d="M15.599999999999998,9 q-0.500,-1.600 0.800,-2.200 q1.800,-0.400 4,0.500 q2.200,-0.900 4,-0.500 q1.300,0.600 0.800,2.200z" fill="#c8363e"/><path d="M20.0,3.600 h0.800 v2.400 h-0.800z" fill="#d9a53a"/><path d="M14.999999999999998,8.800 h10.800 l-0.900,4.300 h-9z" fill="#c9962e"/><path d="M17.4,9.800 h6 v2.200 h-6z" fill="#dcae38"/><path d="M14.899999999999999,13.300 q-2.600,5 -1.600,11.500 q0.800,4 3.200,5.600 q2,1.500 3.900,1 q1.900,0.500 3.900,-1 q2.400,-1.600 3.200,-5.600 q1,-6.500 -1.600,-11.500 q-1.600,1 -2.700,0.400 l-2.800,1.400 l-2.800,-1.400 q-1.100,0.600 -2.700,-0.400z" fill="#f0eff1"/><path d="M16.799999999999997,14 l2.300,-0.500 l1.300,2.400 l1.300,-2.400 l2.300,0.500 l-1.200,3.300 h-4.800z" fill="#cf4a3c"/><path d="M19.799999999999997,14.200 h1.200 l0.800,3.400 h-2.800z" fill="#f4f2f2"/><path d="M17.7,17.800 h5.400 v4.800 q0,2.800 -2.700,3.900 q-2.700,-1.100 -2.700,-3.900z" fill="#cf4444"/><path d="M19.849999999999998,16.800 h1.100 v14.400 h-1.100z M17.9,21.300 h5 v1.100 h-5z" fill="#fbfbfb"/><path d="M14.599999999999998,27.400 l2.800,-1.200 l1.400,3.200 l-2,2.400 q-2,-1.600 -2.200,-4.400z M26.2,27.400 l-2.800,-1.200 l-1.400,3.200 l2,2.400 q2,-1.600 2.200,-4.400z" fill="#c9612e"/></svg><svg class="fl" style="left:1692px;top:533.4px" width="26" height="26"><polygon points="1,1.85 23.75,1.85 12.4,23.1" fill="#ff0000"/></svg>
<div class="cell" style="left:168px;top:571px;width:73px"></div><div class="cell" style="left:250.5px;top:571px;width:526.5px"></div><div class="cell" style="left:785px;top:571px;width:567px"></div><div class="cell" style="left:1359.5px;top:571px;width:281.0px"></div><div class="cell" style="left:1647.5px;top:571px;width:200.5px"></div><svg class="fl" style="left:256.0px;top:581.9px" width="54" height="27.0" viewBox="0 0 54 27" preserveAspectRatio="none" ><rect width="54" height="27" fill="#fff"/><rect width="13.5" height="27" fill="#d52b1e"/><rect x="40.5" width="13.5" height="27" fill="#d52b1e"/><g transform="translate(13.40,0.44) scale(0.272)"><path d="M50,3 L56,16 L63,13 L60,33 L70,23 L73,29 L86,27 L81,42 L88,46 L68,62 L71,72 L52,69 L53,92 L47,92 L48,69 L29,72 L32,62 L12,46 L19,42 L14,27 L27,29 L30,23 L40,33 L37,13 L44,16 Z" fill="#d52b1e"/></g></svg><svg class="fl" style="left:792.0px;top:581.15px" width="57" height="28.5" viewBox="0 0 54 27" preserveAspectRatio="none" ><rect width="54" height="27" fill="#fff"/><rect width="13.5" height="27" fill="#d52b1e"/><rect x="40.5" width="13.5" height="27" fill="#d52b1e"/><g transform="translate(13.40,0.44) scale(0.272)"><path d="M50,3 L56,16 L63,13 L60,33 L70,23 L73,29 L86,27 L81,42 L88,46 L68,62 L71,72 L52,69 L53,92 L47,92 L48,69 L29,72 L32,62 L12,46 L19,42 L14,27 L27,29 L30,23 L40,33 L37,13 L44,16 Z" fill="#d52b1e"/></g></svg>
<svg class="fl" style="left:256.0px;top:630.9px" width="54" height="27.0" viewBox="0 0 54 27" preserveAspectRatio="none" ><rect width="54" height="27" fill="#012169"/><g><clipPath id="c11"><rect width="27" height="13.5"/></clipPath><g clip-path="url(#c11)"><path d="M0,0 L27,13.5 M27,0 L0,13.5" stroke="#fff" stroke-width="2.7"/><path d="M0,0 L27,13.5 M27,0 L0,13.5" stroke="#e4002b" stroke-width="1"/><path d="M13.5,0 V13.5 M0,6.75 H27" stroke="#fff" stroke-width="4.4"/><path d="M13.5,0 V13.5 M0,6.75 H27" stroke="#e4002b" stroke-width="2.6"/></g></g><polygon points="13.50,16.90 14.16,18.92 16.16,18.18 14.99,19.96 16.81,21.06 14.70,21.25 14.98,23.36 13.50,21.83 12.02,23.36 12.30,21.25 10.19,21.06 12.01,19.96 10.84,18.18 12.84,18.92" fill="#fff"/><polygon points="40.50,21.20 40.81,22.15 41.75,21.80 41.20,22.64 42.06,23.16 41.06,23.25 41.19,24.24 40.50,23.52 39.81,24.24 39.94,23.25 38.94,23.16 39.80,22.64 39.25,21.80 40.19,22.15" fill="#fff"/><polygon points="40.50,3.00 40.81,3.95 41.75,3.60 41.20,4.44 42.06,4.96 41.06,5.05 41.19,6.04 40.50,5.32 39.81,6.04 39.94,5.05 38.94,4.96 39.80,4.44 39.25,3.60 40.19,3.95" fill="#fff"/><polygon points="33.80,10.00 34.11,10.95 35.05,10.60 34.50,11.44 35.36,11.96 34.36,12.05 34.49,13.04 33.80,12.32 33.11,13.04 33.24,12.05 32.24,11.96 33.10,11.44 32.55,10.60 33.49,10.95" fill="#fff"/><polygon points="46.50,8.00 46.81,8.95 47.75,8.60 47.20,9.44 48.06,9.96 47.06,10.05 47.19,11.04 46.50,10.32 45.81,11.04 45.94,10.05 44.94,9.96 45.80,9.44 45.25,8.60 46.19,8.95" fill="#fff"/><polygon points="43.20,13.70 43.40,14.32 44.06,14.32 43.53,14.71 43.73,15.33 43.20,14.94 42.67,15.33 42.87,14.71 42.34,14.32 43.00,14.32" fill="#fff"/></svg><svg class="fl" style="left:792.0px;top:630.15px" width="57" height="28.5" viewBox="0 0 54 27" preserveAspectRatio="none" ><rect width="54" height="27" fill="#012169"/><g><clipPath id="c12"><rect width="27" height="13.5"/></clipPath><g clip-path="url(#c12)"><path d="M0,0 L27,13.5 M27,0 L0,13.5" stroke="#fff" stroke-width="2.7"/><path d="M0,0 L27,13.5 M27,0 L0,13.5" stroke="#e4002b" stroke-width="1"/><path d="M13.5,0 V13.5 M0,6.75 H27" stroke="#fff" stroke-width="4.4"/><path d="M13.5,0 V13.5 M0,6.75 H27" stroke="#e4002b" stroke-width="2.6"/></g></g><polygon points="13.50,16.90 14.16,18.92 16.16,18.18 14.99,19.96 16.81,21.06 14.70,21.25 14.98,23.36 13.50,21.83 12.02,23.36 12.30,21.25 10.19,21.06 12.01,19.96 10.84,18.18 12.84,18.92" fill="#fff"/><polygon points="40.50,21.20 40.81,22.15 41.75,21.80 41.20,22.64 42.06,23.16 41.06,23.25 41.19,24.24 40.50,23.52 39.81,24.24 39.94,23.25 38.94,23.16 39.80,22.64 39.25,21.80 40.19,22.15" fill="#fff"/><polygon points="40.50,3.00 40.81,3.95 41.75,3.60 41.20,4.44 42.06,4.96 41.06,5.05 41.19,6.04 40.50,5.32 39.81,6.04 39.94,5.05 38.94,4.96 39.80,4.44 39.25,3.60 40.19,3.95" fill="#fff"/><polygon points="33.80,10.00 34.11,10.95 35.05,10.60 34.50,11.44 35.36,11.96 34.36,12.05 34.49,13.04 33.80,12.32 33.11,13.04 33.24,12.05 32.24,11.96 33.10,11.44 32.55,10.60 33.49,10.95" fill="#fff"/><polygon points="46.50,8.00 46.81,8.95 47.75,8.60 47.20,9.44 48.06,9.96 47.06,10.05 47.19,11.04 46.50,10.32 45.81,11.04 45.94,10.05 44.94,9.96 45.80,9.44 45.25,8.60 46.19,8.95" fill="#fff"/><polygon points="43.20,13.70 43.40,14.32 44.06,14.32 43.53,14.71 43.73,15.33 43.20,14.94 42.67,15.33 42.87,14.71 42.34,14.32 43.00,14.32" fill="#fff"/></svg>
<div class="cell" style="left:168px;top:669px;width:73px"></div><div class="cell" style="left:250.5px;top:669px;width:526.5px"></div><div class="cell" style="left:785px;top:669px;width:567px"></div><div class="cell" style="left:1359.5px;top:669px;width:281.0px"></div><div class="cell" style="left:1647.5px;top:669px;width:200.5px"></div><svg class="fl" style="left:256.0px;top:675.4px" width="54" height="36.0" viewBox="0 0 57 38" preserveAspectRatio="none" ><rect width="57" height="38" fill="#c60b1e"/><rect y="9.5" width="57" height="19" fill="#ffc400"/><rect x="12.1" y="17.2" width="1.7" height="8.3" fill="#c8b9a0"/><rect x="23.6" y="17.2" width="1.7" height="8.3" fill="#c8b9a0"/><rect x="11.6" y="25.0" width="2.7" height="1.1" fill="#b89a3a"/><rect x="23.1" y="25.0" width="2.7" height="1.1" fill="#b89a3a"/><rect x="11.7" y="16.1" width="2.5" height="1.2" fill="#b8862a"/><rect x="23.2" y="16.1" width="2.5" height="1.2" fill="#b8862a"/><path d="M15.399999999999999,16.5 q-0.8,-2.6 0.6,-3.4 q2.7,-1.4 5.4,0 q1.4,0.8 0.6,3.4z" fill="#ad1519"/><path d="M15.399999999999999,16.1 h6.6 v1.1 h-6.6z" fill="#c8a332"/><circle cx="18.7" cy="12.7" r="0.7" fill="#c8a332"/><path d="M15.1,17.3 h7.2 v5.6 q0,3.4 -3.6,4 q-3.6,-0.6 -3.6,-4z" fill="#ad1519"/><path d="M18.7,17.3 h3.6 v3.6 h-3.6z" fill="#e8e0d0"/><path d="M15.1,20.9 h3.6 v5.8 q-3.3,-0.8 -3.6,-3.8z" fill="#e0b83a"/><path d="M18.7,20.9 h3.6 v2 q-0.3,3 -3.6,3.8z" fill="#ad1519"/><circle cx="18.7" cy="21.0" r="1.1" fill="#0039a6"/><circle cx="16.9" cy="19.099999999999998" r="0.9" fill="#d8b040"/></svg><svg class="fl" style="left:792.0px;top:674.4px" width="57" height="38.0" viewBox="0 0 57 38" preserveAspectRatio="none" ><rect width="57" height="38" fill="#c60b1e"/><rect y="9.5" width="57" height="19" fill="#ffc400"/><rect x="12.1" y="17.2" width="1.7" height="8.3" fill="#c8b9a0"/><rect x="23.6" y="17.2" width="1.7" height="8.3" fill="#c8b9a0"/><rect x="11.6" y="25.0" width="2.7" height="1.1" fill="#b89a3a"/><rect x="23.1" y="25.0" width="2.7" height="1.1" fill="#b89a3a"/><rect x="11.7" y="16.1" width="2.5" height="1.2" fill="#b8862a"/><rect x="23.2" y="16.1" width="2.5" height="1.2" fill="#b8862a"/><path d="M15.399999999999999,16.5 q-0.8,-2.6 0.6,-3.4 q2.7,-1.4 5.4,0 q1.4,0.8 0.6,3.4z" fill="#ad1519"/><path d="M15.399999999999999,16.1 h6.6 v1.1 h-6.6z" fill="#c8a332"/><circle cx="18.7" cy="12.7" r="0.7" fill="#c8a332"/><path d="M15.1,17.3 h7.2 v5.6 q0,3.4 -3.6,4 q-3.6,-0.6 -3.6,-4z" fill="#ad1519"/><path d="M18.7,17.3 h3.6 v3.6 h-3.6z" fill="#e8e0d0"/><path d="M15.1,20.9 h3.6 v5.8 q-3.3,-0.8 -3.6,-3.8z" fill="#e0b83a"/><path d="M18.7,20.9 h3.6 v2 q-0.3,3 -3.6,3.8z" fill="#ad1519"/><circle cx="18.7" cy="21.0" r="1.1" fill="#0039a6"/><circle cx="16.9" cy="19.099999999999998" r="0.9" fill="#d8b040"/></svg>
<svg class="fl" style="left:256.0px;top:725.52px" width="54" height="33.75" viewBox="0 0 56 35" preserveAspectRatio="none" ><rect width="56" height="35" fill="#74acdf"/><rect y="11.67" width="56" height="11.67" fill="#fff"/><polygon points="32.90,17.50 31.14,18.12 32.53,19.38 30.66,19.28 31.46,20.96 29.78,20.16 29.88,22.03 28.62,20.64 28.00,22.40 27.38,20.64 26.12,22.03 26.22,20.16 24.54,20.96 25.34,19.28 23.47,19.38 24.86,18.12 23.10,17.50 24.86,16.88 23.47,15.62 25.34,15.72 24.54,14.04 26.22,14.84 26.12,12.97 27.38,14.36 28.00,12.60 28.62,14.36 29.88,12.97 29.78,14.84 31.46,14.04 30.66,15.72 32.53,15.62 31.14,16.88" fill="#f6b40e"/><circle cx="28.0" cy="17.5" r="2.9" fill="#f4b63a" stroke="#c8862a" stroke-width="0.5"/></svg><svg class="fl" style="left:792.0px;top:724.59px" width="57" height="35.62" viewBox="0 0 56 35" preserveAspectRatio="none" ><rect width="56" height="35" fill="#74acdf"/><rect y="11.67" width="56" height="11.67" fill="#fff"/><polygon points="32.90,17.50 31.14,18.12 32.53,19.38 30.66,19.28 31.46,20.96 29.78,20.16 29.88,22.03 28.62,20.64 28.00,22.40 27.38,20.64 26.12,22.03 26.22,20.16 24.54,20.96 25.34,19.28 23.47,19.38 24.86,18.12 23.10,17.50 24.86,16.88 23.47,15.62 25.34,15.72 24.54,14.04 26.22,14.84 26.12,12.97 27.38,14.36 28.00,12.60 28.62,14.36 29.88,12.97 29.78,14.84 31.46,14.04 30.66,15.72 32.53,15.62 31.14,16.88" fill="#f6b40e"/><circle cx="28.0" cy="17.5" r="2.9" fill="#f4b63a" stroke="#c8862a" stroke-width="0.5"/></svg>
<div class="cell" style="left:168px;top:767px;width:73px"></div><div class="cell" style="left:250.5px;top:767px;width:526.5px"></div><div class="cell" style="left:785px;top:767px;width:567px"></div><div class="cell" style="left:1359.5px;top:767px;width:281.0px"></div><div class="cell" style="left:1647.5px;top:767px;width:200.5px"></div><svg class="fl" style="left:256.0px;top:775.2px" width="54" height="32.4" viewBox="0 0 5 3" preserveAspectRatio="none" ><rect width="5" height="1" fill="#fdb913"/><rect y="1" width="5" height="1" fill="#006a44"/><rect y="2" width="5" height="1" fill="#c1272d"/></svg><svg class="fl" style="left:792.0px;top:774.3px" width="57" height="34.2" viewBox="0 0 5 3" preserveAspectRatio="none" ><rect width="5" height="1" fill="#fdb913"/><rect y="1" width="5" height="1" fill="#006a44"/><rect y="2" width="5" height="1" fill="#c1272d"/></svg>
<svg class="fl" style="left:257.29px;top:822.4px" width="51.43" height="36" viewBox="0 0 50 35" preserveAspectRatio="none" ><rect width="50" height="35" fill="#009b3a"/><polygon points="4.2,17.5 25,4.2 45.8,17.5 25,30.8" fill="#fedf00"/><circle cx="25" cy="17.5" r="8.7" fill="#002776"/><path d="M16.6,15.2 Q25,12.4 33.5,19.4" stroke="#fff" stroke-width="1.3" fill="none"/><circle cx="21" cy="20" r="0.4" fill="#fff"/><circle cx="24" cy="22.5" r="0.4" fill="#fff"/><circle cx="28" cy="21.5" r="0.4" fill="#fff"/><circle cx="26" cy="19" r="0.4" fill="#fff"/><circle cx="22.5" cy="23.5" r="0.4" fill="#fff"/><circle cx="29.5" cy="23.5" r="0.4" fill="#fff"/><circle cx="19.5" cy="17.5" r="0.4" fill="#fff"/><circle cx="25" cy="24.5" r="0.4" fill="#fff"/></svg><svg class="fl" style="left:792.0px;top:826.15px" width="57" height="28.5" viewBox="0 0 56 28" preserveAspectRatio="none" ><rect width="56" height="28" fill="#fff"/><rect width="56" height="9.333" fill="#ff0000"/><rect y="18.667" width="56" height="9.333" fill="#171796"/><clipPath id="c20"><path d="M22.75,7.6 h10.5 v8.82 q0,4.620000000000001 -5.25,5.04 q-5.25,-0.2 -5.25,-5.04z"/></clipPath><g clip-path="url(#c20)"><rect x="22.75" y="7.6" width="10.5" height="14.700000000000001" fill="#fff"/><rect x="22.75" y="7.60" width="2.1" height="2.1" fill="#ff0000"/><rect x="26.95" y="7.60" width="2.1" height="2.1" fill="#ff0000"/><rect x="31.15" y="7.60" width="2.1" height="2.1" fill="#ff0000"/><rect x="24.85" y="9.70" width="2.1" height="2.1" fill="#ff0000"/><rect x="29.05" y="9.70" width="2.1" height="2.1" fill="#ff0000"/><rect x="22.75" y="11.80" width="2.1" height="2.1" fill="#ff0000"/><rect x="26.95" y="11.80" width="2.1" height="2.1" fill="#ff0000"/><rect x="31.15" y="11.80" width="2.1" height="2.1" fill="#ff0000"/><rect x="24.85" y="13.90" width="2.1" height="2.1" fill="#ff0000"/><rect x="29.05" y="13.90" width="2.1" height="2.1" fill="#ff0000"/><rect x="22.75" y="16.00" width="2.1" height="2.1" fill="#ff0000"/><rect x="26.95" y="16.00" width="2.1" height="2.1" fill="#ff0000"/><rect x="31.15" y="16.00" width="2.1" height="2.1" fill="#ff0000"/><rect x="24.85" y="18.10" width="2.1" height="2.1" fill="#ff0000"/><rect x="29.05" y="18.10" width="2.1" height="2.1" fill="#ff0000"/><rect x="22.75" y="20.20" width="2.1" height="2.1" fill="#ff0000"/><rect x="26.95" y="20.20" width="2.1" height="2.1" fill="#ff0000"/><rect x="31.15" y="20.20" width="2.1" height="2.1" fill="#ff0000"/></g><path d="M22.15,7.6 l0.6,-3.4 l2.1,-1 l2.1,0.9 l1.05,-0.9 l1.05,0.9 l2.1,-0.9 l2.1,1 l0.6,3.4z" fill="#4a8ad8"/></svg>
<div class="cell" style="left:168px;top:865px;width:73px"></div><div class="cell" style="left:250.5px;top:865px;width:526.5px"></div><div class="cell" style="left:785px;top:865px;width:567px"></div><div class="cell" style="left:1359.5px;top:865px;width:281.0px"></div><div class="cell" style="left:1647.5px;top:865px;width:200.5px"></div><svg class="fl" style="left:256.0px;top:875.9px" width="54" height="27.0" viewBox="0 0 20 10" preserveAspectRatio="none" ><rect width="20" height="10" fill="#9e3039"/><rect y="4" width="20" height="2" fill="#fff"/></svg><svg class="fl" style="left:792.0px;top:870.4px" width="57" height="38.0" viewBox="0 0 57 38" preserveAspectRatio="none" ><rect width="57" height="38" fill="#c60b1e"/><rect y="9.5" width="57" height="19" fill="#ffc400"/><rect x="12.1" y="17.2" width="1.7" height="8.3" fill="#c8b9a0"/><rect x="23.6" y="17.2" width="1.7" height="8.3" fill="#c8b9a0"/><rect x="11.6" y="25.0" width="2.7" height="1.1" fill="#b89a3a"/><rect x="23.1" y="25.0" width="2.7" height="1.1" fill="#b89a3a"/><rect x="11.7" y="16.1" width="2.5" height="1.2" fill="#b8862a"/><rect x="23.2" y="16.1" width="2.5" height="1.2" fill="#b8862a"/><path d="M15.399999999999999,16.5 q-0.8,-2.6 0.6,-3.4 q2.7,-1.4 5.4,0 q1.4,0.8 0.6,3.4z" fill="#ad1519"/><path d="M15.399999999999999,16.1 h6.6 v1.1 h-6.6z" fill="#c8a332"/><circle cx="18.7" cy="12.7" r="0.7" fill="#c8a332"/><path d="M15.1,17.3 h7.2 v5.6 q0,3.4 -3.6,4 q-3.6,-0.6 -3.6,-4z" fill="#ad1519"/><path d="M18.7,17.3 h3.6 v3.6 h-3.6z" fill="#e8e0d0"/><path d="M15.1,20.9 h3.6 v5.8 q-3.3,-0.8 -3.6,-3.8z" fill="#e0b83a"/><path d="M18.7,20.9 h3.6 v2 q-0.3,3 -3.6,3.8z" fill="#ad1519"/><circle cx="18.7" cy="21.0" r="1.1" fill="#0039a6"/><circle cx="16.9" cy="19.099999999999998" r="0.9" fill="#d8b040"/></svg>
<svg class="fl" style="left:256.0px;top:920.4px" width="54" height="36.0" viewBox="0 0 27 18" preserveAspectRatio="none" ><rect width="27" height="18" fill="#0d5eaf"/><rect y="2" width="27" height="2" fill="#fff"/><rect y="6" width="27" height="2" fill="#fff"/><rect y="10" width="27" height="2" fill="#fff"/><rect y="14" width="27" height="2" fill="#fff"/><rect width="10" height="10" fill="#0d5eaf"/><rect x="4" width="2" height="10" fill="#fff"/><rect y="4" width="10" height="2" fill="#fff"/></svg><svg class="fl" style="left:792.0px;top:919.4px" width="57" height="38.0" viewBox="0 0 27 18" preserveAspectRatio="none" ><rect width="27" height="18" fill="#0d5eaf"/><rect y="2" width="27" height="2" fill="#fff"/><rect y="6" width="27" height="2" fill="#fff"/><rect y="10" width="27" height="2" fill="#fff"/><rect y="14" width="27" height="2" fill="#fff"/><rect width="10" height="10" fill="#0d5eaf"/><rect x="4" width="2" height="10" fill="#fff"/><rect y="4" width="10" height="2" fill="#fff"/></svg><svg class="fl" style="left:1692px;top:925.4px" width="26" height="26"><polygon points="12.4,2.85 23.75,24.6 1,24.6" fill="#0dbb1e"/></svg>
<div class="cell" style="left:168px;top:963px;width:73px"></div><div class="cell" style="left:250.5px;top:963px;width:526.5px"></div><div class="cell" style="left:785px;top:963px;width:567px"></div><div class="cell" style="left:1359.5px;top:963px;width:281.0px"></div><div class="cell" style="left:1647.5px;top:963px;width:200.5px"></div><svg class="fl" style="left:256.0px;top:969.4px" width="54" height="36.0" viewBox="0 0 54 36" preserveAspectRatio="none" ><rect width="54" height="36" fill="#e30a17"/><circle cx="19.5" cy="18" r="9" fill="#fff"/><circle cx="21.75" cy="18" r="7.2" fill="#e30a17"/><polygon points="29.11,13.72 31.03,16.37 34.14,15.35 32.22,18.00 34.14,20.65 31.03,19.63 29.11,22.28 29.11,19.01 26.00,18.00 29.11,16.99" fill="#fff"/></svg><svg class="fl" style="left:792.0px;top:968.4px" width="57" height="38.0" viewBox="0 0 54 36" preserveAspectRatio="none" ><rect width="54" height="36" fill="#e30a17"/><circle cx="19.5" cy="18" r="9" fill="#fff"/><circle cx="21.75" cy="18" r="7.2" fill="#e30a17"/><polygon points="29.11,13.72 31.03,16.37 34.14,15.35 32.22,18.00 34.14,20.65 31.03,19.63 29.11,22.28 29.11,19.01 26.00,18.00 29.11,16.99" fill="#fff"/></svg><svg class="fl" style="left:1692px;top:974.4px" width="26" height="26"><polygon points="1,1.85 23.75,1.85 12.4,23.1" fill="#ff0000"/></svg>
<span class="t" style="left:197.20px;top:387.68px;font-size:24px;letter-spacing:0.000px;color:#3d3d3d;">1</span>
<span class="t" style="left:318.00px;top:387.68px;font-size:24px;letter-spacing:-0.010px;color:#3d3d3d;">United States</span>
<span class="t" style="left:864.75px;top:387.68px;font-size:24px;transform:scaleX(0.9626);transform-origin:0 0;color:#3d3d3d;">Steve Kerr</span>
<span class="t" style="left:1464.30px;top:387.68px;font-size:24px;letter-spacing:0.252px;color:#3d3d3d;">876</span>
<span class="t" style="left:198.20px;top:436.68px;font-size:24px;letter-spacing:0.000px;color:#3d3d3d;">2</span>
<span class="t" style="left:319.00px;top:436.68px;font-size:24px;transform:scaleX(0.9742);transform-origin:0 0;color:#3d3d3d;">Germany</span>
<span class="t" style="left:864.75px;top:436.68px;font-size:24px;letter-spacing:0.089px;color:#3d3d3d;">Àlex Mumbrú</span>
<span class="t" style="left:1463.30px;top:436.68px;font-size:24px;letter-spacing:0.752px;color:#3d3d3d;">781</span>
<span class="t" style="left:198.20px;top:485.68px;font-size:24px;letter-spacing:0.000px;color:#3d3d3d;">3</span>
<span class="t" style="left:318.00px;top:485.68px;font-size:24px;letter-spacing:-0.271px;color:#3d3d3d;">France</span>
<span class="t" style="left:863.75px;top:485.68px;font-size:24px;letter-spacing:-0.173px;color:#3d3d3d;">Frédéric Fauthoux</span>
<span class="t" style="left:1463.30px;top:485.68px;font-size:24px;letter-spacing:0.752px;color:#3d3d3d;">779</span>
<span class="t" style="left:1735.29px;top:484.24px;font-size:25px;transform:scaleX(0.9587);transform-origin:0 0;font-weight:400;-webkit-text-stroke:0.3px #3d3d3d;color:#3d3d3d;">+1</span>
<span class="t" style="left:198.20px;top:534.68px;font-size:24px;letter-spacing:0.000px;color:#3d3d3d;">4</span>
<span class="t" style="left:319.00px;top:534.68px;font-size:24px;transform:scaleX(0.9389);transform-origin:0 0;color:#3d3d3d;">Serbia</span>
<span class="t" style="left:863.75px;top:534.68px;font-size:24px;letter-spacing:-0.071px;color:#3d3d3d;">Dusan Alimpijevic</span>
<span class="t" style="left:1463.30px;top:534.68px;font-size:24px;letter-spacing:0.752px;color:#3d3d3d;">778</span>
<span class="t" style="left:1737.75px;top:533.24px;font-size:25px;letter-spacing:-0.325px;font-weight:400;-webkit-text-stroke:0.3px #3d3d3d;color:#3d3d3d;">-1</span>
<span class="t" style="left:198.20px;top:583.68px;font-size:24px;letter-spacing:0.000px;color:#3d3d3d;">5</span>
<span class="t" style="left:319.00px;top:583.68px;font-size:24px;transform:scaleX(0.9731);transform-origin:0 0;color:#3d3d3d;">Canada</span>
<span class="t" style="left:864.75px;top:583.68px;font-size:24px;letter-spacing:0.120px;color:#3d3d3d;">Gordon Herbert</span>
<span class="t" style="left:1463.30px;top:583.68px;font-size:24px;letter-spacing:0.752px;color:#3d3d3d;">773</span>
<span class="t" style="left:198.20px;top:632.68px;font-size:24px;letter-spacing:0.000px;color:#3d3d3d;">6</span>
<span class="t" style="left:319.00px;top:632.68px;font-size:24px;transform:scaleX(0.9617);transform-origin:0 0;color:#3d3d3d;">Australia</span>
<span class="t" style="left:864.75px;top:632.68px;font-size:24px;letter-spacing:-0.144px;color:#3d3d3d;">Adam Caporn</span>
<span class="t" style="left:1463.30px;top:632.68px;font-size:24px;letter-spacing:0.252px;color:#3d3d3d;">754</span>
<span class="t" style="left:197.20px;top:681.68px;font-size:24px;letter-spacing:0.000px;color:#3d3d3d;">7</span>
<span class="t" style="left:319.00px;top:681.68px;font-size:24px;transform:scaleX(0.9431);transform-origin:0 0;color:#3d3d3d;">Spain</span>
<span class="t" style="left:864.75px;top:681.68px;font-size:24px;letter-spacing:-0.122px;color:#3d3d3d;">Chus Mateo</span>
<span class="t" style="left:1463.30px;top:681.68px;font-size:24px;letter-spacing:0.752px;color:#3d3d3d;">728</span>
<span class="t" style="left:198.20px;top:730.68px;font-size:24px;letter-spacing:0.000px;color:#3d3d3d;">8</span>
<span class="t" style="left:319.00px;top:730.68px;font-size:24px;letter-spacing:-0.333px;color:#3d3d3d;">Argentina</span>
<span class="t" style="left:863.75px;top:730.68px;font-size:24px;letter-spacing:0.044px;color:#3d3d3d;">Pablo Prigioni</span>
<span class="t" style="left:1463.30px;top:730.68px;font-size:24px;letter-spacing:0.752px;color:#3d3d3d;">722</span>
<span class="t" style="left:198.20px;top:779.68px;font-size:24px;letter-spacing:0.000px;color:#3d3d3d;">9</span>
<span class="t" style="left:318.00px;top:779.68px;font-size:24px;letter-spacing:-0.165px;color:#3d3d3d;">Lithuania</span>
<span class="t" style="left:863.75px;top:779.68px;font-size:24px;letter-spacing:-0.299px;color:#3d3d3d;">Rimas Kurtinaitis</span>
<span class="t" style="left:1463.30px;top:779.68px;font-size:24px;letter-spacing:0.752px;color:#3d3d3d;">709</span>
<span class="t" style="left:190.50px;top:828.68px;font-size:24px;letter-spacing:0.852px;color:#3d3d3d;">10</span>
<span class="t" style="left:318.00px;top:828.68px;font-size:24px;letter-spacing:0.463px;color:#3d3d3d;">Brazil</span>
<span class="t" style="left:864.75px;top:828.68px;font-size:24px;letter-spacing:-0.177px;color:#3d3d3d;">Aleksandar Petrovic</span>
<span class="t" style="left:1463.30px;top:828.68px;font-size:24px;letter-spacing:0.752px;color:#3d3d3d;">706</span>
<span class="t" style="left:190.50px;top:877.68px;font-size:24px;letter-spacing:2.177px;color:#3d3d3d;">11</span>
<span class="t" style="left:318.04px;top:877.68px;font-size:24px;transform:scaleX(0.9563);transform-origin:0 0;color:#3d3d3d;">Latvia</span>
<span class="t" style="left:864.75px;top:877.68px;font-size:24px;transform:scaleX(0.9517);transform-origin:0 0;color:#3d3d3d;">Sito Alonso</span>
<span class="t" style="left:1464.30px;top:877.68px;font-size:24px;letter-spacing:0.252px;color:#3d3d3d;">698</span>
<span class="t" style="left:190.50px;top:926.68px;font-size:24px;letter-spacing:0.852px;color:#3d3d3d;">12</span>
<span class="t" style="left:319.00px;top:926.68px;font-size:24px;letter-spacing:-0.210px;color:#3d3d3d;">Greece</span>
<span class="t" style="left:864.75px;top:926.68px;font-size:24px;transform:scaleX(0.9578);transform-origin:0 0;color:#3d3d3d;">Vassilis Spanoulis</span>
<span class="t" style="left:1464.30px;top:926.68px;font-size:24px;letter-spacing:0.252px;color:#3d3d3d;">696</span>
<span class="t" style="left:1735.29px;top:925.24px;font-size:25px;transform:scaleX(0.9587);transform-origin:0 0;font-weight:400;-webkit-text-stroke:0.3px #3d3d3d;color:#3d3d3d;">+1</span>
<span class="t" style="left:190.50px;top:975.68px;font-size:24px;letter-spacing:0.852px;color:#3d3d3d;">13</span>
<span class="t" style="left:319.00px;top:975.68px;font-size:24px;letter-spacing:-0.115px;color:#3d3d3d;">Turkey</span>
<span class="t" style="left:863.75px;top:975.68px;font-size:24px;letter-spacing:-0.101px;color:#3d3d3d;">Ergin Ataman</span>
<span class="t" style="left:1464.30px;top:975.68px;font-size:24px;letter-spacing:0.252px;color:#3d3d3d;">696</span>
<span class="t" style="left:1737.75px;top:974.24px;font-size:25px;letter-spacing:-0.325px;font-weight:400;-webkit-text-stroke:0.3px #3d3d3d;color:#3d3d3d;">-1</span>
</div>

<svg class="fl" style="left:0;top:0" width="240" height="1080" viewBox="0 0 240 1080">
  <!-- back -->
  <circle cx="61" cy="55" r="40" fill="#fff"/>
  <path d="M67.5,42.5 L55,54 L67.5,65" fill="none" stroke="#0a0a0a" stroke-width="4" stroke-linejoin="miter"/>
  <rect x="43" y="104.6" width="36" height="2.2" fill="#fff"/>
  <!-- home -->
  <circle cx="61" cy="157.5" r="40" fill="#fff"/>
  <path d="M39.6,157.6 L61,136 L82.6,157.6" fill="none" stroke="#0a0a0a" stroke-width="3"/>
  <path d="M44.6,158.5 L61,142.2 L78.2,158.5 V177 H66 V163.2 H57 V177 H44.6 Z" fill="#0a0a0a"/>
  <rect x="43" y="203" width="36" height="2.2" fill="#fff"/>
  <!-- flag -->
  <circle cx="61" cy="252.1" r="37.3" fill="#fff"/>
  <path d="M44.9,232.8 L54,275.4" stroke="#0a0a0a" stroke-width="1.8" fill="none"/>
  <path d="M47.3,233.9 C53,230.5 60,228.6 68.2,229 L68.2,249.7 C61,248 55.5,250 51.9,253.4 Z" fill="#0a0a0a"/>
  <path d="M70.2,234.4 L78.6,231.2 L78.1,250 C74.5,252.6 71.5,254.6 68.4,254.2 Z" fill="#0a0a0a"/>
  <!-- tactics -->
  <circle cx="61" cy="341.6" r="37.3" fill="#fff"/>
  <g fill="none" stroke="#111" stroke-width="1.9">
    <path d="M47.3,325.7 L57.6,336 M57.6,325.7 L47.3,336"/>
    <path d="M67.4,341.2 L78,351.8 M78,341.2 L67.4,351.8"/>
    <circle cx="49.8" cy="351.7" r="4.7"/>
    <path d="M56.2,346 Q66.5,339 70.6,327"/>
  </g>
  <path d="M71.4,324.2 L73,330.2 L67.2,328.4 Z" fill="#111"/>
  <!-- trophy -->
  <circle cx="61" cy="430.9" r="37.3" fill="#fff"/>
  <path d="M52.7,411 H71 C71,420 67.5,427 63.4,429.2 L63.2,432.4 C63,436 63.8,438.4 66,440 C68.6,441.6 70.2,444 70.2,446.5 V448.9 H53.9 V446.5 C53.9,444 55.5,441.6 58.1,440 C60.3,438.4 61.1,436 60.9,432.4 L60.7,429.2 C56.6,427 52.7,420 52.7,411 Z" fill="#0a0a0a"/>
  <path d="M53,413.6 C49.5,412 47.6,414.6 48.6,418.4 C49.6,422 52.6,424.4 55.6,425.2 M70.8,413.6 C74.3,412 76.2,414.6 75.2,418.4 C74.2,422 71.2,424.4 68.2,425.2" fill="none" stroke="#222" stroke-width="1"/>
  <!-- handshake (disabled) -->
  <circle cx="61" cy="520" r="37.2" fill="#8a8a8a"/>
  <path d="M41.5,509 L45,507.5 L52,509.5 L57,506.5 L64,506.8 L72,510.5 L79,508.5 L82.5,510 V523 L80,524 L75,521.5 L74.5,525 L69,529.5 L63,532.5 L57,531 L49,527.5 L46.5,523.5 L41.5,521 Z" fill="#7b7b7b"/>
  <!-- U18 (disabled) -->
  <circle cx="61" cy="609.2" r="37.2" fill="#8a8a8a"/>
  <rect x="41" y="588.2" width="40.5" height="40" rx="1" fill="#7d7d7d"/>
  <text x="61.2" y="618.6" font-family="Liberation Sans, sans-serif" font-weight="700" font-size="27" fill="#8b8b8b" text-anchor="middle" textLength="27" lengthAdjust="spacingAndGlyphs">U18</text>
  <!-- finance (disabled) -->
  <circle cx="61" cy="699" r="37" fill="#8a8a8a"/>
  <g fill="#7d7d7d">
    <rect x="41" y="708" width="5.5" height="9"/><rect x="49.5" y="704" width="5.5" height="13"/><rect x="58" y="711" width="5.5" height="6"/><rect x="66.5" y="704" width="5.5" height="13"/><rect x="75" y="694" width="5.5" height="23"/>
    <path d="M38.5,703 L48,694 L60.5,706 L77,687.5 L73.5,684.5 L84.5,682.5 L83.5,693.5 L80,690.5 L60.8,711.5 L48,699.5 L41,706 Z"/>
  </g>
  <text x="60.6" y="694.4" font-family="Liberation Sans, sans-serif" font-weight="700" font-size="20" fill="#7d7d7d" text-anchor="middle">$</text>
  <rect x="44" y="743.6" width="34" height="2.2" fill="#fff"/>
  <!-- profile -->
  <circle cx="61.2" cy="791.7" r="36" fill="#fff"/>
  <circle cx="61.3" cy="791" r="18" fill="none" stroke="#0a0a0a" stroke-width="1.6"/>
  <clipPath id="pcl"><circle cx="61.3" cy="791" r="17.4"/></clipPath>
  <g clip-path="url(#pcl)" fill="#0a0a0a">
    <ellipse cx="61.3" cy="784.6" rx="5.9" ry="6.8"/>
    <path d="M58.2,788 h6.2 v6 c1,2.4 8,3.6 12.5,6.2 V812 H45.7 V800.2 c4.5,-2.6 11.5,-3.800 12.5,-6.200 Z"/>
  </g>
  <!-- mail -->
  <circle cx="61.2" cy="879.3" r="36" fill="#fff"/>
  <rect x="40.2" y="863" width="42.5" height="28.3" rx="1.5" fill="#0a0a0a"/>
  <path d="M40.2,865.2 L61.4,881.6 L82.7,865.2 M40.2,889.6 L55.2,877 M82.7,889.6 L67.6,877" fill="none" stroke="#fff" stroke-width="2.2"/>
  <circle cx="79.3" cy="854" r="12.1" fill="#fff"/><circle cx="79.3" cy="854" r="11.2" fill="#fe0000"/>
  <text x="79.3" y="860.4" font-family="Liberation Sans, sans-serif" font-weight="700" font-size="17.5" fill="#fff" text-anchor="middle">2</text>
  <!-- X -->
  <circle cx="61" cy="965" r="36" fill="#fff"/>
  <g fill="#0a0a0a">
    <polygon points="41.6,943.9 47.4,943.9 59.5,962.4 53.7,962.4"/>
    <polygon points="51.6,943.9 56.2,943.9 60.8,951.4 58.5,955.4"/>
    <polygon points="62.3,959.6 68.4,957.3 80.4,983.1 74.1,983.1"/>
    <polygon points="63.7,973.7 66.1,969.3 70.8,983.1 65.8,983.1"/>
  </g>
  <g fill="#fff" stroke="#fff" stroke-width="1.6">
    <polygon points="41.6,983.1 48.3,983.1 71.7,944 65.3,944"/>
    <polygon points="51.6,983.1 57.9,983.1 75.4,952.7 70.4,952.7"/>
  </g>
  <g fill="#0a0a0a">
    <polygon points="41.6,983.1 48.3,983.1 71.7,944 65.3,944"/>
    <polygon points="51.6,983.1 57.9,983.1 75.4,952.7 70.4,952.7"/>
  </g>
  <circle cx="79.75" cy="940.2" r="12.6" fill="#fff"/><circle cx="79.75" cy="940.2" r="11.8" fill="#fe0000"/>

  <!-- swap club icon -->
  <g transform="translate(172.6,56)">
    <circle r="35.6" fill="#fff"/>
    <clipPath id="swl"><rect x="-40" y="-40" width="40" height="80"/></clipPath>
    <clipPath id="swr"><rect x="0" y="-40" width="40" height="80"/></clipPath>
    <circle cx="2" cy="-7" r="30" fill="#c4c4c4" clip-path="url(#swl)"/>
    <circle cx="-2" cy="7" r="30" fill="#c4c4c4" clip-path="url(#swr)"/>
    <circle r="21.6" fill="#000"/>
    <path d="M3.4,-43 L-10.2,-29.3 L3.4,-16.5" fill="none" stroke="#000" stroke-width="2.4"/>
    <polygon points="-7.6,-29.3 5.6,-40 5.9,-19" fill="#fff"/>
    <path d="M-3.4,43 L10.2,29.3 L-3.4,16.5" fill="none" stroke="#000" stroke-width="2.4"/>
    <polygon points="7.600,29.3 -5.6,40 -5.9,19" fill="#fff"/>
    <!-- shield -->
    <path d="M-14.6,-16.6 Q0,-19.4 14.6,-16.600 V3 Q13.500,12.500 0,18.300 Q-13.500,12.500 -14.600,3 Z" fill="#111" stroke="#f2f2f2" stroke-width="1.7"/>
    <path d="M-11.900,-13.600 Q0,-15.800 11.900,-13.600 V2.600 Q11,10 0,15 Q-11,10 -11.900,2.600 Z" fill="none" stroke="#dcdcdc" stroke-width="1"/>
    <g stroke="#f0f0f0" stroke-width="2.7" fill="none">
      <path d="M0,-12 V13.500 M-9,-8.500 H9 M-4.200,-8 Q-4.200,2 -9.600,7.500 M4.200,-8 Q4.200,2 9.600,7.500 M-10.500,-1.500 L-4.500,-3.800 M10.500,-1.500 L4.500,-3.800"/>
    </g>
  </g>
</svg>


<span class="t" style="left:517.50px;top:27.15px;font-size:20.5px;letter-spacing:1.149px;font-weight:400;-webkit-text-stroke:0.3px #fff;">Team</span>
<span class="t" style="left:517.50px;top:54.79px;font-size:17.5px;letter-spacing:0.588px;font-weight:400;-webkit-text-stroke:0.3px #fff;">World</span>
<span class="t" style="left:516.50px;top:74.99px;font-size:17.5px;letter-spacing:0.473px;font-weight:400;-webkit-text-stroke:0.3px #fff;">ranking</span>
<span class="t" style="left:672.50px;top:27.99px;font-size:19.5px;letter-spacing:-0.065px;font-weight:400;-webkit-text-stroke:0.3px #fff;">Slovenia</span>
<span class="t" style="left:645.00px;top:62.72px;font-size:21px;letter-spacing:0.821px;">14</span>
<span class="t" style="left:931.50px;top:25.99px;font-size:26px;letter-spacing:-0.153px;">UPLAY Basketball</span>
<span class="t" style="left:1432.50px;top:27.59px;font-size:25px;letter-spacing:-0.170px;">2 SEP 2025</span>
<span class="t" style="left:1450.00px;top:63.84px;font-size:25px;letter-spacing:-0.111px;">Tuesday</span>
<span class="t" style="left:1650.00px;top:42.97px;font-size:26.5px;letter-spacing:-0.316px;">CONTINUE</span>
<span class="t" style="left:138.60px;top:123.75px;font-size:22.5px;letter-spacing:0.188px;">National team - World ranking</span>
<span class="t" style="left:918.00px;top:191.59px;font-size:25px;transform:scaleX(0.9361);transform-origin:0 0;">WORLD RANKING</span>
<span class="t" style="left:844.25px;top:259.43px;font-size:24px;letter-spacing:-0.105px;">All countries</span>
<span class="t" style="left:181.08px;top:329.68px;font-size:24px;transform:scaleX(0.9159);transform-origin:0 0;">POS</span>
<span class="t" style="left:455.00px;top:329.68px;font-size:24px;transform:scaleX(0.9765);transform-origin:0 0;">COUNTRY</span>
<span class="t" style="left:1023.75px;top:329.43px;font-size:24px;transform:scaleX(0.9721);transform-origin:0 0;">COACH</span>
<span class="t" style="left:1417.75px;top:331.18px;font-size:24px;letter-spacing:0.127px;">REPUTATION</span>
<span class="t" style="left:1716.52px;top:329.43px;font-size:24px;transform:scaleX(0.9775);transform-origin:0 0;">DIFF</span>
<span class="t" style="left:180.00px;top:1024.88px;font-size:24px;letter-spacing:-0.231px;">Last ranking update: July 01</span>
</body></html>
